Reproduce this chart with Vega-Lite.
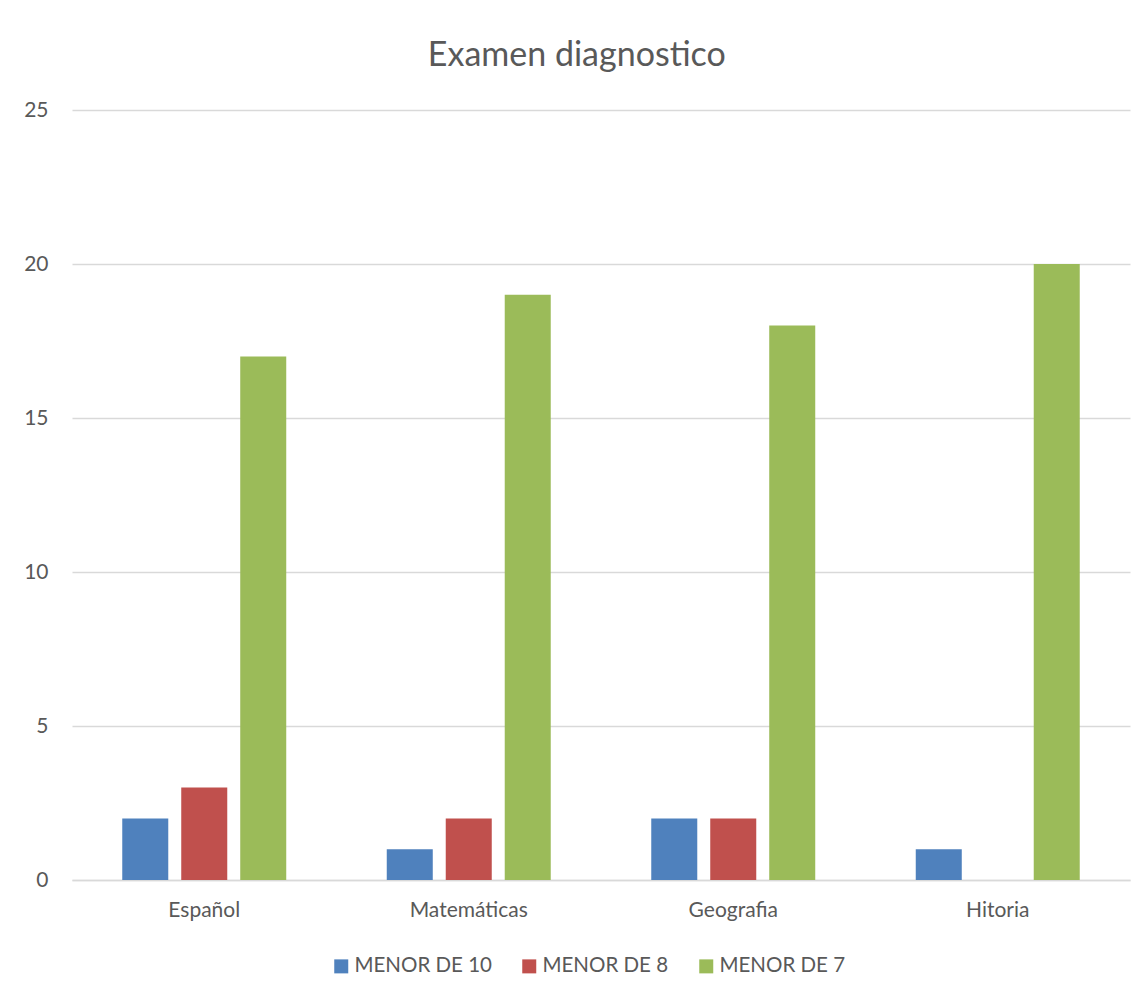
{
  "$schema": "https://vega.github.io/schema/vega-lite/v6.json",
  "autosize": "none",
  "width": 1058,
  "height": 770,
  "padding": {"left": 72, "top": 110, "right": 18, "bottom": 116},
  "background": "white",
  "title": {
    "text": "Examen diagnostico",
    "fontSize": 34,
    "font": "Lato",
    "fontWeight": "normal",
    "color": "#595959",
    "anchor": "middle",
    "frame": "bounds",
    "offset": 26
  },
  "data": {
    "values": [
      {"materia": "Español", "serie": "MENOR DE 10", "valor": 2},
      {"materia": "Español", "serie": "MENOR DE 8", "valor": 3},
      {"materia": "Español", "serie": "MENOR DE 7", "valor": 17},
      {"materia": "Matemáticas", "serie": "MENOR DE 10", "valor": 1},
      {"materia": "Matemáticas", "serie": "MENOR DE 8", "valor": 2},
      {"materia": "Matemáticas", "serie": "MENOR DE 7", "valor": 19},
      {"materia": "Geografia", "serie": "MENOR DE 10", "valor": 2},
      {"materia": "Geografia", "serie": "MENOR DE 8", "valor": 2},
      {"materia": "Geografia", "serie": "MENOR DE 7", "valor": 18},
      {"materia": "Hitoria", "serie": "MENOR DE 10", "valor": 1},
      {"materia": "Hitoria", "serie": "MENOR DE 8", "valor": 0},
      {"materia": "Hitoria", "serie": "MENOR DE 7", "valor": 20}
    ]
  },
  "mark": {"type": "bar"},
  "encoding": {
    "x": {
      "field": "materia",
      "type": "nominal",
      "sort": ["Español", "Matemáticas", "Geografia", "Hitoria"],
      "scale": {"paddingInner": 0.38, "paddingOuter": 0.19},
      "axis": {
        "title": null,
        "labelAngle": 0,
        "labelFont": "Lato",
        "labelFontSize": 21,
        "labelColor": "#595959",
        "labelPadding": 19,
        "ticks": false,
        "domainColor": "#d9d9d9",
        "domainWidth": 1.5
      }
    },
    "xOffset": {
      "field": "serie",
      "type": "nominal",
      "sort": ["MENOR DE 10", "MENOR DE 8", "MENOR DE 7"],
      "scale": {"paddingInner": 0.22, "paddingOuter": 0}
    },
    "y": {
      "field": "valor",
      "type": "quantitative",
      "scale": {"domain": [0, 25]},
      "axis": {
        "title": null,
        "values": [0, 5, 10, 15, 20, 25],
        "labelFont": "Lato",
        "labelFontSize": 21,
        "labelColor": "#595959",
        "labelPadding": 24,
        "ticks": false,
        "domain": false,
        "gridColor": "#d9d9d9",
        "gridWidth": 1.5
      }
    },
    "color": {
      "field": "serie",
      "type": "nominal",
      "sort": ["MENOR DE 10", "MENOR DE 8", "MENOR DE 7"],
      "scale": {
        "domain": ["MENOR DE 10", "MENOR DE 8", "MENOR DE 7"],
        "range": ["#4F81BD", "#C0504D", "#9BBB59"]
      },
      "legend": {
        "title": null,
        "orient": "none",
        "direction": "horizontal",
        "legendX": 259,
        "legendY": 846,
        "symbolType": "square",
        "symbolSize": 196,
        "symbolStrokeWidth": 0,
        "symbolOpacity": 1,
        "labelFont": "Lato",
        "labelFontSize": 20.5,
        "labelColor": "#595959",
        "labelOffset": 3,
        "columnPadding": 27
      }
    }
  },
  "config": {
    "view": {"stroke": null}
  }
}
